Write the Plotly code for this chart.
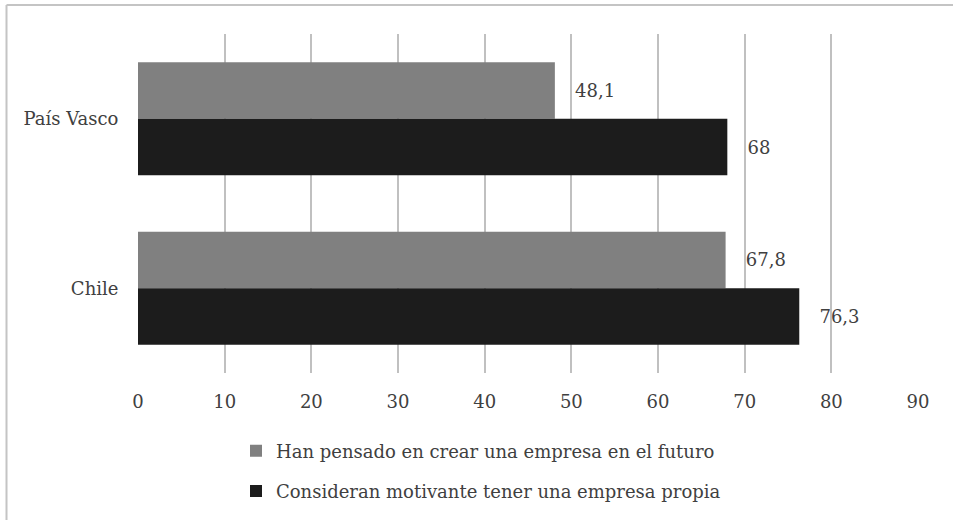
import plotly.graph_objects as go

# data
regions = ["País Vasco", "Chile"]
pensado = [48.1, 67.8]
motivante = [68, 76.3]
series_names = ["Han pensado en crear una empresa en el futuro",
                "Consideran motivante tener una empresa propia"]
x_ticks = [0, 10, 20, 30, 40, 50, 60, 70, 80, 90]

FONT = "DejaVu Serif"
FS = 18
W, H = 953, 520
ML, MR, MT, MB = 138, 35, 34, 147


def fmt(v):
    return "\u00a0\u00a0\u00a0" + (f"{v:g}").replace(".", ",")


fig = go.Figure()
fig.add_trace(go.Bar(
    y=regions, x=pensado, orientation="h", name=series_names[0],
    marker=dict(color="#808080", line=dict(width=0)),
    text=[fmt(v) for v in pensado], textposition="outside",
    textfont=dict(family=FONT, size=FS, color="#404040"),
    cliponaxis=False, legendgroup="a",
))
fig.add_trace(go.Bar(
    y=regions, x=motivante, orientation="h", name=series_names[1],
    marker=dict(color="#1c1c1c", line=dict(width=0)),
    text=[fmt(v) for v in motivante], textposition="outside",
    textfont=dict(family=FONT, size=FS, color="#404040"),
    cliponaxis=False, legendgroup="b",
))

# outer frame (right and bottom edges are cut off in the reference)
px = lambda x: (x - ML) / (W - ML - MR)
py = lambda y: (H - MB - y) / (H - MT - MB)
fig.add_shape(type="line", xref="paper", yref="paper",
              x0=px(6.5), x1=px(960), y0=py(5), y1=py(5),
              line=dict(color="#c4c4c4", width=2))
fig.add_shape(type="line", xref="paper", yref="paper",
              x0=px(6.5), x1=px(6.5), y0=py(5), y1=py(530),
              line=dict(color="#c4c4c4", width=2))

fig.update_layout(
    width=W, height=H,
    margin=dict(l=ML, r=MR, t=MT, b=MB, autoexpand=False),
    paper_bgcolor="white", plot_bgcolor="white",
    barmode="group", bargap=0.333, bargroupgap=0,
    font=dict(family=FONT, size=FS, color="#404040"),
    xaxis=dict(range=[0, 90], tickvals=x_ticks, showgrid=True,
               gridcolor="#c0c0c0", gridwidth=1.5, zeroline=False,
               showline=False, ticks="outside", ticklen=12,
               tickcolor="rgba(0,0,0,0)", tickfont=dict(size=FS),
               tickangle=0),
    yaxis=dict(autorange="reversed", showgrid=False, showline=False,
               ticks="outside", ticklen=15, tickcolor="rgba(0,0,0,0)",
               tickfont=dict(size=FS)),
    legend=dict(orientation="v", x=px(236), xanchor="left",
                y=py(471), yanchor="middle",
                traceorder="grouped", tracegroupgap=14,
                font=dict(size=FS), itemwidth=30),
    showlegend=True,
)

fig.write_html("out.html", config={"displayModeBar": False},
               post_script="document.body.style.margin='0';")
